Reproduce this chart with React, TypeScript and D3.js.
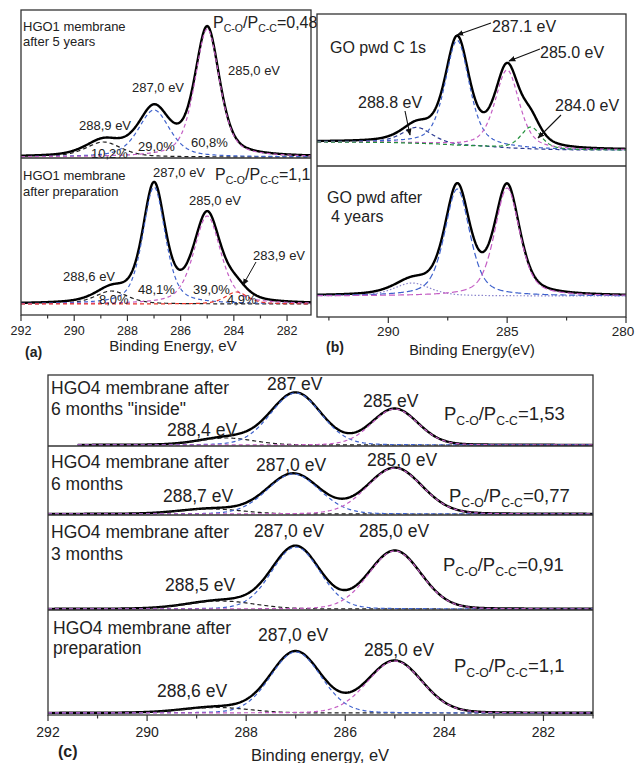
import React from "react";
import * as d3 from "d3";

const FONT = "'Liberation Sans', Arial, Helvetica, sans-serif";

// ---------- axis ticks ----------
const aTicks = [292, 290, 288, 286, 284, 282];
const aMinorTicks = [291, 289, 287, 285, 283];
const bTicks = [290, 285, 280];
const bMinorTicks = [292.5, 287.5, 282.5];
const cTicks = [292, 290, 288, 286, 284, 282];
const cMinorTicks = [291, 289, 287, 285, 283, 281];

// ---------- fitted components (binding energy, eV / peak intensity a.u. / FWHM eV) ----------
// (a) top: HGO1 membrane after 5 years
const a1Centers = [288.9, 287.0, 285.0];
const a1Heights = [15, 47, 128];
const a1Widths = [1.6, 1.4, 1.1];
// (a) bottom: HGO1 membrane after preparation
const a2Centers = [288.6, 287.0, 285.0, 283.9];
const a2Heights = [13, 117, 88, 12];
const a2Widths = [1.45, 1.0, 1.2, 1.0];
// (b) top: GO pwd C 1s
const b1Centers = [288.8, 287.1, 285.0, 284.0];
const b1Heights = [16, 105, 78, 22];
const b1Widths = [1.5, 1.2, 1.2, 1.0];
const b1BackgroundE = [293, 290, 288, 287, 286, 285, 284, 283, 282, 280];
const b1BackgroundI = [8, 7.5, 6, 4.5, 3.5, 2, 1, 0.4, 0, 0];
// (b) bottom: GO pwd after 4 years
const b2Centers = [289.0, 287.1, 285.0];
const b2Heights = [13, 107, 108];
const b2Widths = [1.8, 1.25, 1.25];
// (c) HGO4 membrane after 6 months "inside"
const c1Centers = [288.4, 287.0, 285.0];
const c1Heights = [7, 52, 36];
const c1Widths = [1.3, 1.2, 1.1];
// (c) after 6 months
const c2Centers = [288.7, 287.05, 285.0];
const c2Heights = [5, 40, 46];
const c2Widths = [1.5, 1.25, 1.3];
// (c) after 3 months
const c3Centers = [288.5, 287.0, 285.0];
const c3Heights = [8, 62, 58];
const c3Widths = [1.6, 1.15, 1.25];
// (c) after preparation
const c4Centers = [288.6, 287.0, 285.0];
const c4Heights = [5.5, 61, 52];
const c4Widths = [1.6, 1.2, 1.3];

// ---------- styles ----------
const BLACK_D = "#222";
const BLUE = "#3f62cc";
const MAGENTA = "#c45ec4";
const RED = "#e8342a";
const GREEN = "#23903c";
const NAVY = "#2b3a92";
const DOT = "#8a84cc";
const DASH = "4,3";

function pv(E: number, c: number, h: number, w: number, eta: number) {
  const d = (E - c) / w;
  return h * ((1 - eta) * Math.exp(-4 * Math.LN2 * d * d) + eta / (1 + 4 * d * d));
}

type SpecProps = {
  x: d3.ScaleLinear<number, number>;
  y: d3.ScaleLinear<number, number>;
  centers: number[];
  heights: number[];
  widths: number[];
  colors: string[];
  dashes: string[];
  eta: number;
  from: number;
  to: number;
  bg?: (E: number) => number;
  clipId: string;
};

function Spectrum({ x, y, centers, heights, widths, colors, dashes, eta, from, to, bg, clipId }: SpecProps) {
  const Es = d3.range(from, to - 1e-9, -0.02);
  const bgf = bg ?? (() => 0);
  const line = d3
    .line<[number, number]>()
    .x((d) => x(d[0]))
    .y((d) => y(d[1]));
  const env: [number, number][] = Es.map((E) => [
    E,
    bgf(E) + d3.sum(centers, (c, i) => pv(E, c, heights[i], widths[i], eta)),
  ]);
  const comps = centers.map((c, i) =>
    Es.map((E) => [E, bgf(E) + pv(E, c, heights[i], widths[i], eta)] as [number, number])
  );
  return (
    <g clipPath={`url(#${clipId})`}>
      <path d={line(env) || ""} fill="none" stroke="#000" strokeWidth={2.4} strokeLinejoin="round" />
      {comps.map((pts, i) => (
        <path
          key={i}
          d={line(pts) || ""}
          fill="none"
          stroke={colors[i]}
          strokeWidth={1.2}
          strokeDasharray={dashes[i]}
        />
      ))}
    </g>
  );
}

function Axis({
  x,
  y0,
  ticks,
  minor,
  fontSize,
  labelY,
  maxLabelX = 10000,
}: {
  x: d3.ScaleLinear<number, number>;
  y0: number;
  ticks: number[];
  minor: number[];
  fontSize: number;
  labelY: number;
  maxLabelX?: number;
}) {
  return (
    <g>
      {ticks.map((t) => (
        <g key={"M" + t}>
          <line x1={x(t)} x2={x(t)} y1={y0} y2={y0 + 6} stroke="#333" strokeWidth={1.2} />
          <text x={Math.min(x(t), maxLabelX)} y={labelY} textAnchor="middle" fontSize={fontSize} fill="#222">
            {t}
          </text>
        </g>
      ))}
      {minor.map((t) => (
        <line key={"m" + t} x1={x(t)} x2={x(t)} y1={y0} y2={y0 + 3.5} stroke="#333" strokeWidth={1.2} />
      ))}
    </g>
  );
}

function Ratio({ x, y, fs, value }: { x: number; y: number; fs: number; value: string }) {
  const sub = fs * 0.66;
  const off = fs * 0.28;
  return (
    <text x={x} y={y} fontSize={fs} fill="#222">
      P
      <tspan fontSize={sub} dy={off}>
        C-O
      </tspan>
      <tspan dy={-off}>/P</tspan>
      <tspan fontSize={sub} dy={off}>
        C-C
      </tspan>
      <tspan dy={-off}>={value}</tspan>
    </text>
  );
}

function T({ x, y, fs, children, anchor, bold }: any) {
  return (
    <text x={x} y={y} fontSize={fs} fill="#222" textAnchor={anchor || "start"} fontWeight={bold ? "bold" : "normal"}>
      {children}
    </text>
  );
}

export default function App() {
  // x scales
  const xa = d3.scaleLinear().domain([292, 281.1]).range([21, 311]);
  const xb = d3.scaleLinear().domain([293, 280]).range([317, 626]);
  const xc = d3.scaleLinear().domain([292, 281]).range([48, 593]);

  // y scales (subpanels)
  const ya1 = d3.scaleLinear().domain([-1, 147]).range([158, 10]);
  const ya2 = d3.scaleLinear().domain([-11, 146]).range([315, 158]);
  const yb1 = d3.scaleLinear().domain([-16, 136]).range([166, 14]);
  const yb2 = d3.scaleLinear().domain([-21, 130]).range([317, 166]);
  const yc1 = d3.scaleLinear().domain([-1, 70]).range([446, 375]);
  const yc2 = d3.scaleLinear().domain([-1, 68]).range([515, 446]);
  const yc3 = d3.scaleLinear().domain([-1, 94]).range([610, 515]);
  const yc4 = d3.scaleLinear().domain([-2, 103]).range([715, 610]);

  const b1bg = d3.scaleLinear().domain(b1BackgroundE).range(b1BackgroundI);

  const clip = (id: string, x0: number, y0: number, x1: number, y1: number) => (
    <clipPath id={id} key={id}>
      <rect x={x0} y={y0} width={x1 - x0} height={y1 - y0} />
    </clipPath>
  );

  const frame = "#333";

  return (
    <svg
      width={636}
      height={763}
      viewBox="0 0 636 763"
      style={{ position: "absolute", left: 0, top: 0, background: "#fff", fontFamily: FONT }}
    >
      <defs>
        {clip("ca1", 21, 10, 311, 158)}
        {clip("ca2", 21, 158, 311, 315)}
        {clip("cb1", 317, 14, 626, 166)}
        {clip("cb2", 317, 166, 626, 317)}
        {clip("cc1", 48, 375, 593, 446)}
        {clip("cc2", 48, 446, 593, 515)}
        {clip("cc3", 48, 515, 593, 610)}
        {clip("cc4", 48, 610, 593, 715)}
        <marker id="arr" viewBox="0 0 10 10" refX="9" refY="5" markerWidth="7" markerHeight="7" orient="auto" markerUnits="userSpaceOnUse">
          <path d="M0,1 L10,5 L0,9 z" fill="#111" />
        </marker>
      </defs>

      {/* ================= (a) ================= */}
      <Spectrum x={xa} y={ya1} centers={a1Centers} heights={a1Heights} widths={a1Widths}
        colors={[BLACK_D, BLUE, MAGENTA]} dashes={[DASH, DASH, DASH]} eta={0.5} from={292} to={281.1} clipId="ca1" />
      <Spectrum x={xa} y={ya2} centers={a2Centers} heights={a2Heights} widths={a2Widths}
        colors={[BLACK_D, BLUE, MAGENTA, RED]} dashes={[DASH, DASH, DASH, DASH]} eta={0.5} from={292} to={281.1} clipId="ca2" />
      <rect x={21} y={10} width={290} height={305} fill="none" stroke={frame} strokeWidth={1.3} />
      <line x1={21} x2={311} y1={158} y2={158} stroke={frame} strokeWidth={1.3} />
      <Axis x={xa} y0={315} ticks={aTicks} minor={aMinorTicks} fontSize={12.5} labelY={335} />
      <T x={173} y={351} fs={15} anchor="middle">Binding Energy, eV</T>
      <T x={25} y={357} fs={14} bold>(a)</T>

      <T x={23} y={31} fs={13}>HGO1 membrane</T>
      <T x={23} y={45.5} fs={13}>after 5 years</T>
      <Ratio x={213} y={28} fs={16} value="0,48" />
      <T x={228} y={74.5} fs={13}>285,0 eV</T>
      <T x={132} y={92} fs={13}>287,0 eV</T>
      <T x={79} y={130} fs={13}>288,9 eV</T>
      <T x={91} y={157.5} fs={13}>10,2%</T>
      <T x={138} y={151} fs={13}>29,0%</T>
      <T x={191} y={146.5} fs={13}>60,8%</T>

      <T x={23} y={179.5} fs={13}>HGO1 membrane</T>
      <T x={23} y={196} fs={13}>after preparation</T>
      <T x={153} y={177} fs={13}>287,0 eV</T>
      <Ratio x={215} y={180} fs={16} value="1,1" />
      <T x={189} y={204.5} fs={13}>285,0 eV</T>
      <T x={253} y={259.5} fs={13}>283,9 eV</T>
      <line x1={256} y1={262} x2={243} y2={285} stroke="#111" strokeWidth={1} markerEnd="url(#arr)" />
      <T x={63} y={281} fs={13}>288,6 eV</T>
      <T x={138} y={293.5} fs={13}>48,1%</T>
      <T x={193} y={293.5} fs={13}>39,0%</T>
      <T x={99} y={303.5} fs={13}>8,0%</T>
      <T x={227} y={303.5} fs={13}>4,9%</T>

      {/* ================= (b) ================= */}
      <Spectrum x={xb} y={yb1} centers={b1Centers} heights={b1Heights} widths={b1Widths}
        colors={[NAVY, BLUE, MAGENTA, GREEN]} dashes={[DASH, DASH, DASH, DASH]} eta={0.5} from={293} to={280}
        bg={(E) => b1bg(E)} clipId="cb1" />
      <Spectrum x={xb} y={yb2} centers={b2Centers} heights={b2Heights} widths={b2Widths}
        colors={[DOT, BLUE, MAGENTA]} dashes={["1.5,2", "6,3", "6,3"]} eta={0.5} from={293} to={280} clipId="cb2" />
      <rect x={317} y={14} width={309} height={303} fill="none" stroke={frame} strokeWidth={1.3} />
      <line x1={317} x2={626} y1={166} y2={166} stroke={frame} strokeWidth={1.3} />
      <Axis x={xb} y0={317} ticks={bTicks} minor={bMinorTicks} fontSize={13.5} labelY={336} maxLabelX={623} />
      <T x={472} y={355} fs={14.5} anchor="middle">Binding Energy(eV)</T>
      <T x={326} y={352} fs={14} bold>(b)</T>

      <T x={330} y={52.5} fs={16}>GO pwd C 1s</T>
      <T x={492} y={31.5} fs={16}>287.1 eV</T>
      <line x1={491} y1={23} x2={457} y2={35} stroke="#111" strokeWidth={1.1} markerEnd="url(#arr)" />
      <T x={540} y={58} fs={16}>285.0 eV</T>
      <line x1={540} y1={49} x2={509} y2={61} stroke="#111" strokeWidth={1.1} markerEnd="url(#arr)" />
      <T x={358} y={108} fs={16}>288.8 eV</T>
      <line x1={405} y1={111} x2={410} y2={135} stroke="#111" strokeWidth={1.1} markerEnd="url(#arr)" />
      <T x={555} y={111} fs={16}>284.0 eV</T>
      <line x1={561} y1={115} x2={538} y2={138} stroke="#111" strokeWidth={1.1} markerEnd="url(#arr)" />
      <T x={327} y={203} fs={16}>GO pwd after</T>
      <T x={331} y={222} fs={16}>4 years</T>

      {/* ================= (c) ================= */}
      <Spectrum x={xc} y={yc1} centers={c1Centers} heights={c1Heights} widths={c1Widths}
        colors={[BLACK_D, BLUE, MAGENTA]} dashes={[DASH, DASH, DASH]} eta={0.1} from={291.4} to={281} clipId="cc1" />
      <Spectrum x={xc} y={yc2} centers={c2Centers} heights={c2Heights} widths={c2Widths}
        colors={[BLACK_D, BLUE, MAGENTA]} dashes={[DASH, DASH, DASH]} eta={0.1} from={292} to={281} clipId="cc2" />
      <Spectrum x={xc} y={yc3} centers={c3Centers} heights={c3Heights} widths={c3Widths}
        colors={[BLACK_D, BLUE, MAGENTA]} dashes={[DASH, DASH, DASH]} eta={0.1} from={292} to={281} clipId="cc3" />
      <Spectrum x={xc} y={yc4} centers={c4Centers} heights={c4Heights} widths={c4Widths}
        colors={[BLACK_D, BLUE, MAGENTA]} dashes={[DASH, DASH, DASH]} eta={0.1} from={292} to={281} clipId="cc4" />
      <rect x={48} y={375} width={545} height={340} fill="none" stroke={frame} strokeWidth={1.3} />
      <line x1={48} x2={593} y1={446} y2={446} stroke={frame} strokeWidth={1.6} />
      <line x1={48} x2={593} y1={515} y2={515} stroke={frame} strokeWidth={1.6} />
      <line x1={48} x2={593} y1={610} y2={610} stroke={frame} strokeWidth={1.6} />
      <Axis x={xc} y0={715} ticks={cTicks} minor={cMinorTicks} fontSize={14} labelY={737} />
      <T x={320} y={761} fs={16.5} anchor="middle">Binding energy, eV</T>
      <T x={58} y={757} fs={16} bold>(c)</T>

      <T x={51} y={393.5} fs={17.5}>HGO4 membrane after</T>
      <T x={51} y={414.5} fs={17.5}>6 months "inside"</T>
      <T x={267} y={390} fs={17.5}>287 eV</T>
      <T x={167} y={436} fs={17.5}>288,4 eV</T>
      <T x={363} y={407} fs={17.5}>285 eV</T>
      <Ratio x={444} y={420} fs={18.5} value="1,53" />

      <T x={51} y={468} fs={17.5}>HGO4 membrane after</T>
      <T x={51} y={489.5} fs={17.5}>6 months</T>
      <T x={256} y={470.5} fs={17.5}>287,0 eV</T>
      <T x={163} y={502} fs={17.5}>288,7 eV</T>
      <T x={367} y={465.5} fs={17.5}>285,0 eV</T>
      <Ratio x={449} y={501.7} fs={18.5} value="0,77" />

      <T x={51} y={538} fs={17.5}>HGO4 membrane after</T>
      <T x={51} y={559.5} fs={17.5}>3 months</T>
      <T x={254} y={537} fs={17.5}>287,0 eV</T>
      <T x={165} y={590.5} fs={17.5}>288,5 eV</T>
      <T x={359} y={537} fs={17.5}>285,0 eV</T>
      <Ratio x={443} y={570.7} fs={18.5} value="0,91" />

      <T x={53} y={633.5} fs={17.5}>HGO4 membrane after</T>
      <T x={53} y={654} fs={17.5}>preparation</T>
      <T x={258} y={641} fs={17.5}>287,0 eV</T>
      <T x={157} y={697} fs={17.5}>288,6 eV</T>
      <T x={364} y={656} fs={17.5}>285,0 eV</T>
      <Ratio x={454} y={671.7} fs={18.5} value="1,1" />
    </svg>
  );
}
